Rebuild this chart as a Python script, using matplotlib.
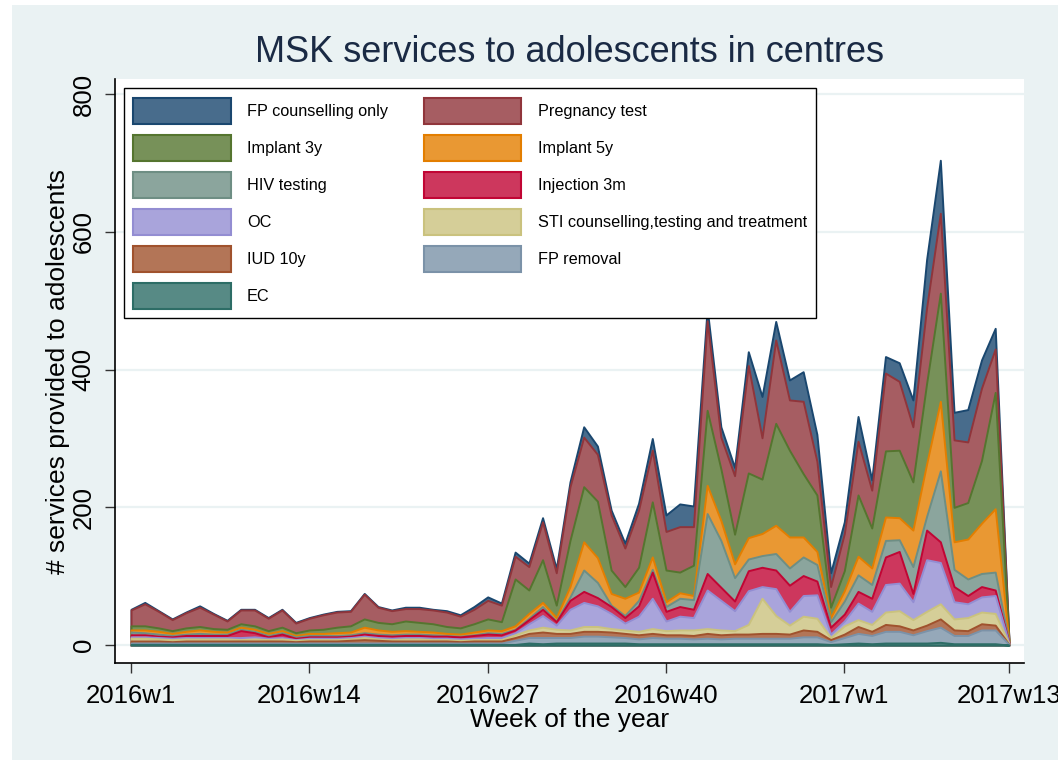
import numpy as np
import matplotlib.pyplot as plt
from matplotlib.patches import Patch, Rectangle

plt.rcParams['font.family'] = ['Liberation Sans', 'DejaVu Sans']

# week index 0 = 2016w1 ... 64 = 2017w13
weeks = list(range(65))
tick_pos = [0, 13, 26, 39, 52, 64]
tick_labels = ["2016w1", "2016w14", "2016w27", "2016w40", "2017w1", "2017w13"]

# services per week, stacked bottom -> top
ec = [1, 1, 1, 1, 1, 1, 1, 1, 1, 1, 1, 1, 1, 1, 1, 1, 1, 1, 1, 1, 1, 1, 1, 1, 1, 1, 1, 1,
      1, 3, 2, 3, 3, 3, 3, 3, 3, 2, 2, 2, 2, 2, 2, 2, 2, 2, 2, 2, 2, 2, 2, 1, 2, 3, 2, 3, 3, 3, 3, 4, 2, 2, 2, 2, 0]
fp_removal = [2, 2, 2, 2, 2, 2, 2, 2, 2, 2, 2, 2, 2, 2, 2, 2, 2, 2, 2, 2, 2, 2, 2, 2, 2, 2, 2, 2,
              6, 8, 9, 8, 8, 10, 10, 9, 8, 7, 9, 8, 8, 7, 8, 7, 8, 8, 8, 8, 8, 10, 10, 4, 9, 14, 12, 17, 17, 12, 18, 22, 12, 12, 20, 20, 1]
iud_10y = [3, 3, 3, 2, 3, 3, 3, 3, 3, 3, 3, 3, 2, 3, 3, 3, 4, 5, 4, 3, 3, 3, 3, 3, 2, 3, 3, 3,
           4, 6, 8, 6, 6, 7, 7, 7, 6, 6, 6, 5, 5, 5, 7, 6, 6, 6, 7, 7, 6, 10, 8, 3, 5, 10, 6, 10, 8, 7, 8, 12, 8, 7, 9, 7, 0]
sti = [4, 4, 3, 3, 3, 3, 3, 3, 2, 3, 2, 3, 2, 2, 2, 2, 2, 3, 2, 2, 3, 3, 2, 2, 2, 2, 2, 2,
       4, 5, 7, 6, 5, 7, 7, 5, 5, 5, 7, 6, 7, 8, 7, 7, 5, 14, 51, 26, 13, 20, 19, 3, 12, 10, 10, 18, 22, 15, 20, 22, 16, 19, 17, 17, 1]
oc = [2, 2, 2, 2, 2, 2, 2, 2, 3, 3, 2, 2, 1, 2, 2, 2, 2, 2, 2, 2, 2, 2, 2, 2, 2, 2, 3, 3,
      3, 9, 17, 6, 30, 35, 30, 22, 10, 22, 44, 14, 20, 18, 56, 43, 29, 49, 17, 39, 20, 30, 34, 5, 7, 24, 19, 40, 40, 26, 75, 60, 25, 20, 22, 26, 1]
injection_3m = [3, 3, 2, 2, 3, 3, 3, 3, 10, 6, 2, 5, 2, 2, 2, 2, 2, 3, 3, 3, 3, 3, 3, 3, 3, 4, 5, 4,
                4, 6, 9, 5, 13, 16, 12, 10, 8, 15, 38, 14, 14, 12, 24, 19, 14, 29, 28, 27, 38, 29, 20, 10, 10, 17, 19, 40, 46, 12, 43, 30, 22, 12, 15, 8, 1]
hiv_testing = [4, 3, 3, 2, 2, 3, 2, 2, 2, 2, 2, 2, 2, 2, 2, 2, 2, 2, 2, 2, 2, 2, 2, 1, 1, 1, 2, 2,
               1, 2, 4, 1, 5, 31, 22, 2, 3, 8, 4, 7, 12, 14, 87, 68, 34, 17, 17, 24, 25, 27, 24, 8, 19, 24, 20, 24, 17, 39, 20, 103, 25, 24, 19, 26, 1]
implant_5y = [3, 4, 4, 3, 4, 5, 4, 3, 3, 3, 3, 3, 2, 3, 3, 4, 4, 8, 6, 5, 5, 4, 4, 3, 3, 4, 4, 4,
              5, 7, 6, 5, 15, 41, 36, 17, 25, 12, 18, 7, 8, 6, 41, 29, 20, 31, 32, 41, 45, 29, 19, 6, 15, 27, 24, 34, 32, 53, 76, 101, 40, 58, 73, 92, 1]
implant_3y = [6, 6, 5, 4, 5, 5, 4, 4, 5, 5, 4, 5, 4, 5, 6, 8, 9, 12, 11, 11, 14, 13, 12, 10, 9, 12, 16, 13,
              68, 34, 62, 18, 67, 80, 82, 34, 17, 36, 80, 46, 30, 44, 109, 75, 43, 94, 79, 148, 126, 92, 82, 15, 29, 89, 58, 96, 98, 70, 117, 157, 50, 53, 91, 169, 1]
pregnancy_test = [23, 32, 24, 16, 22, 28, 21, 12, 20, 23, 18, 25, 14, 17, 21, 22, 21, 36, 22, 19, 18, 20, 20, 21, 17, 21, 27, 24,
                  33, 34, 55, 47, 78, 72, 68, 80, 56, 83, 75, 56, 66, 56, 130, 46, 85, 156, 60, 121, 73, 105, 49, 30, 54, 78, 55, 113, 100, 80, 110, 116, 98, 88, 105, 63, 1]
fp_counselling = [1, 2, 1, 1, 1, 2, 1, 1, 1, 1, 1, 1, 1, 1, 1, 1, 1, 1, 1, 1, 2, 2, 1, 2, 2, 4, 5, 3,
                  6, 5, 6, 6, 7, 15, 12, 7, 7, 10, 17, 24, 33, 30, 18, 15, 12, 20, 60, 27, 29, 43, 39, 20, 17, 36, 15, 24, 27, 39, 70, 77, 40, 47, 41, 30, 0]

series = [ec, fp_removal, iud_10y, sti, oc, injection_3m, hiv_testing,
          implant_5y, implant_3y, pregnancy_test, fp_counselling]
labels = ["EC", "FP removal", "IUD 10y", "STI counselling,testing and treatment", "OC",
          "Injection 3m", "HIV testing", "Implant 5y", "Implant 3y", "Pregnancy test",
          "FP counselling only"]
colors = ["#2D6D66", "#7B92A8", "#A0522D", "#CAC27E", "#938DD2", "#C10534",
          "#6E8E84", "#E37E00", "#55752F", "#90353B", "#1A476F"]


def tint(hexcol, f=0.8):
    rgb = np.array([int(hexcol[i:i + 2], 16) for i in (1, 3, 5)]) / 255.0
    return tuple(rgb * f + (1 - f))


W, H = 1058, 760
fig = plt.figure(figsize=(W / 100, H / 100), dpi=100)
fig.patch.set_facecolor("white")
fig.add_artist(Rectangle((12 / W, 0), 1 - 12 / W, 1 - 5 / H, transform=fig.transFigure,
                         facecolor="#EAF2F3", edgecolor="none", zorder=-5))

ax_l, ax_r, ax_t, ax_b = 115, 1024, 79, 663
ax = fig.add_axes([ax_l / W, 1 - ax_b / H, (ax_r - ax_l) / W, (ax_b - ax_t) / H])
ax.set_facecolor("white")

x = np.array(weeks)
cum = np.cumsum(np.array(series, dtype=float), axis=0)
# Stata style: draw cumulative areas from the top layer down
for k in range(len(series) - 1, -1, -1):
    ax.fill_between(x, 0, cum[k], facecolor=tint(colors[k]), edgecolor=colors[k],
                    linewidth=1.4, zorder=2)

ax.set_xlim(-1.17, 65.1)
ax.set_ylim(-26, 822)
ax.set_yticks([0, 200, 400, 600, 800])
ax.set_xticks(tick_pos)
ax.set_xticklabels(tick_labels)
ax.grid(axis="y", color="#EAF2F3", linewidth=1.6, zorder=1)
ax.set_axisbelow(True)
for s in ("top", "right"):
    ax.spines[s].set_visible(False)
for s in ("left", "bottom"):
    ax.spines[s].set_linewidth(1.2)
ax.tick_params(axis="both", labelsize=18.5, length=7, width=1.0, color="#333333")
ax.tick_params(axis="x", pad=8)
ax.tick_params(axis="y", pad=7)
plt.setp(ax.get_yticklabels(), rotation=90, va="center", ha="right")

ax.set_xlabel("Week of the year", fontsize=19, labelpad=0)
ax.set_ylabel("# services provided to adolescents", fontsize=19, labelpad=1)

fig.text((ax_l + ax_r) / 2 / W, 1 - 52 / H, "MSK services to adolescents in centres",
         fontsize=26, ha="center", va="center", color="#1A2A44")

order = [10, 8, 6, 4, 2, 0, 9, 7, 5, 3, 1]
handles = [Patch(facecolor=tint(colors[k]), edgecolor=colors[k], linewidth=1.5) for k in order]
leg = ax.legend(handles, [labels[k] for k in order], ncol=2, loc="upper left",
                bbox_to_anchor=(8.5 / (ax_r - ax_l), 1 - 9 / (ax_b - ax_t)),
                fontsize=11.7, handlelength=6.0, handleheight=2.08, labelspacing=0.68,
                handletextpad=1.0, columnspacing=2.2, borderpad=0.6, borderaxespad=0,
                fancybox=False, framealpha=1, edgecolor="black")
leg.get_frame().set_linewidth(1.0)
leg.set_zorder(5)

fig.savefig("out.png", dpi=100)
